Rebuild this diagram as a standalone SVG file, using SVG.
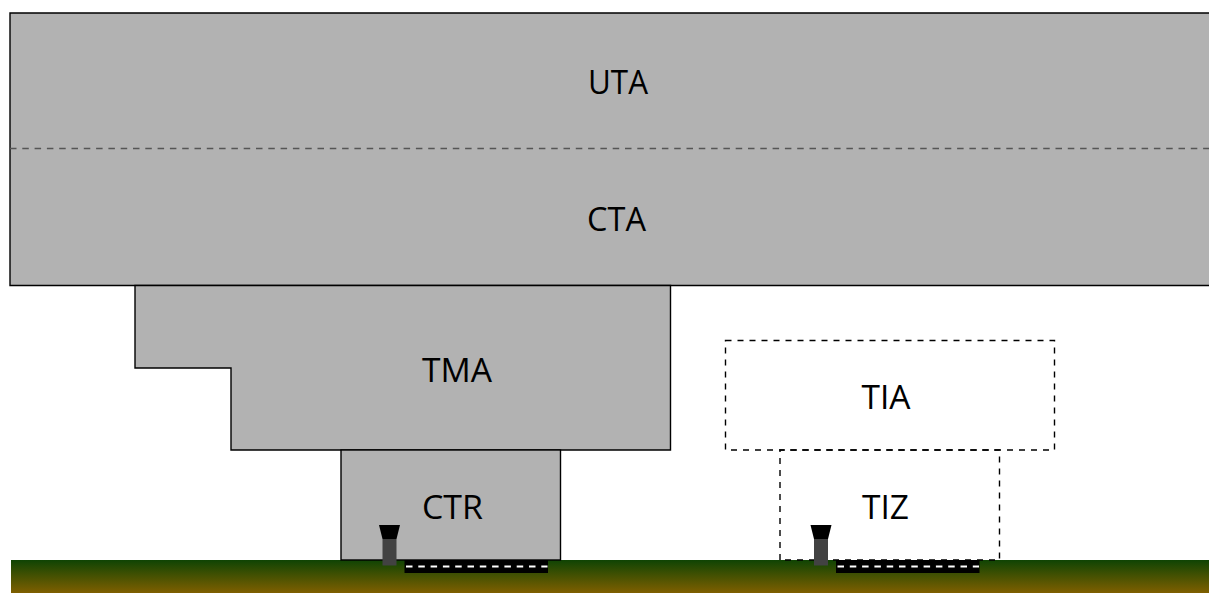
<svg xmlns="http://www.w3.org/2000/svg" width="1209" height="593" viewBox="0 0 1209 593">
<style>
.zone{fill:#b2b2b2;stroke:#000;stroke-width:1.4}
.tz{fill:none;stroke:#000;stroke-width:1.4;stroke-dasharray:6 6}
.lbl{font-family:"Open Sans","Noto Sans",sans-serif;font-size:32.500px;fill:#000;text-anchor:middle}
.cl{stroke:#fff;stroke-width:2;stroke-dasharray:6.500 5.800;fill:none}
</style>
<defs>
<linearGradient id="g" x1="0" y1="0" x2="0" y2="1"><stop offset="0" stop-color="#0f4404"/><stop offset="1" stop-color="#7f5f00"/></linearGradient>
<g id="tower"><path d="M-10.500 0H10.500L7 14H-7Z" fill="#000"/><rect x="-7" y="14" width="14" height="26.500" fill="#424242"/></g>
<g id="rwy"><rect x="0" y="0" width="143.500" height="13" fill="#000"/><line x1="1.500" y1="6.500" x2="143" y2="6.500" class="cl"/></g>
</defs>
<rect id="ground" x="11" y="560" width="1198" height="33" fill="url(#g)"/>
<g id="UTA-CTA"><path class="zone" d="M1210 13H10V285.500H1210Z"/><text class="lbl" x="618" y="94" textLength="60" lengthAdjust="spacingAndGlyphs">UTA</text><text class="lbl" x="616.500" y="231" textLength="59" lengthAdjust="spacingAndGlyphs">CTA</text></g>
<g id="connectors"><line x1="10" y1="148.500" x2="1209" y2="148.500" stroke="#555" stroke-width="1.400" stroke-dasharray="6.500 5.800"/></g>
<g id="TMA"><path class="zone" d="M135 285.500H670.500V450H231V368H135Z"/><text class="lbl" x="457" y="382" textLength="70" lengthAdjust="spacingAndGlyphs">TMA</text></g>
<g id="CTR"><rect class="zone" x="341" y="450" width="219.500" height="110"/><text class="lbl" x="452.500" y="519" textLength="61" lengthAdjust="spacingAndGlyphs">CTR</text></g>
<g id="TIA"><rect class="tz" x="725.500" y="340.500" width="329" height="109.500"/><text class="lbl" x="886" y="409" textLength="49" lengthAdjust="spacingAndGlyphs">TIA</text></g>
<g id="TIZ"><path class="tz" d="M780 560V450H999.500V560Z"/><text class="lbl" x="885.500" y="519" textLength="47" lengthAdjust="spacingAndGlyphs">TIZ</text></g>
<g id="airport-1"><use href="#tower" x="389.500" y="525"/><use href="#rwy" x="404.500" y="560"/></g>
<g id="airport-2"><use href="#tower" x="821" y="525"/><use href="#rwy" x="836" y="560"/></g>
</svg>
